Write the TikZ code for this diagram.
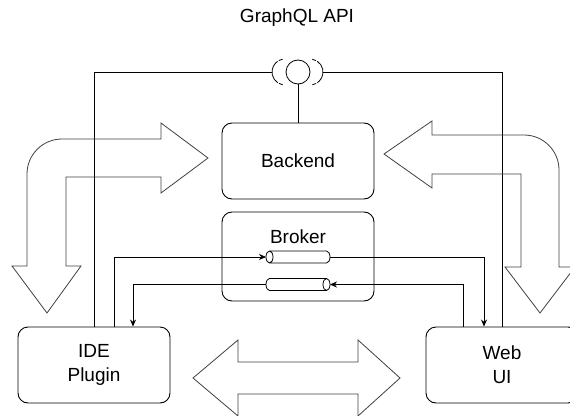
\documentclass[tikz,border=0pt]{standalone}
\usepackage{fontspec}
\setmainfont{Liberation Sans}
\usetikzlibrary{arrows.meta}
\newcommand{\lbl}{\fontsize{19}{24}\selectfont}

\begin{document}
\begin{tikzpicture}[x=1pt, y=-1pt,
  comp/.style={rectangle, draw, rounded corners=10pt, minimum width=152pt, minimum height=76pt, align=center, font=\lbl, line width=0.9pt},
  queue/.style={rectangle, minimum width=64pt, minimum height=12pt, inner sep=0pt, outer sep=0pt},
  qend/.style={x radius=3.5pt, y radius=6pt},
  link/.style={line width=0.8pt},
  flow/.style={link, -{Stealth[length=7pt, width=6pt]}},
  bigarrow/.style={draw=black!75, line width=0.8pt, line join=miter}
]
  \useasboundingbox (0,0) rectangle (570,415);

  \node[font=\lbl] (title) at (297,18) {GraphQL API};

  \node[comp] (backend) at (298,161) {Backend};
  \node[comp, minimum height=89pt] (broker) at (298,256.5) {};
  \node[font=\lbl] (brokertitle) at (298,237) {Broker};
  \node[comp] (ide) at (94,365) {IDE\\Plugin};
  \node[comp] (web) at (502,365) {Web\\UI};

  \node[queue] (qin) at (298,257) {};
  \node[queue] (qout) at (298,284.5) {};
  \draw[link] ([xshift=3.5pt]qin.north west) -- ([xshift=-3.5pt]qin.north east) arc[start angle=90, end angle=-90, qend]
    -- ([xshift=3.5pt]qin.south west) arc[start angle=270, end angle=90, qend] arc[start angle=90, end angle=-90, qend];
  \draw[link] ([xshift=3.5pt]qout.north west) -- ([xshift=-3.5pt]qout.north east) arc[start angle=90, end angle=-90, qend]
    arc[start angle=270, end angle=90, qend] arc[start angle=90, end angle=-90, qend]
    -- ([xshift=3.5pt]qout.south west) arc[start angle=270, end angle=90, qend];

  \node[draw, circle, link, minimum size=24pt, inner sep=0pt] (api) at (298,72) {};
  \coordinate (sockL) at (272,72);
  \coordinate (sockR) at (323,72);
  \draw[link, dash pattern=on 4pt off 1.5pt on 25pt off 1.5pt] ([shift={(100:13)}]285,72) arc[start angle=100, end angle=260, radius=13];
  \draw[link, dash pattern=on 4pt off 1.5pt on 25pt off 1.5pt] ([shift={(-80:13)}]310,72) arc[start angle=-80, end angle=80, radius=13];

  \draw[link] (api) -- (backend);
  \draw[link] (sockL) -| (ide.north);
  \draw[link] (sockR) -| (web.north);

  \draw[flow] ([xshift=20pt]ide.north) |- (qin.west);
  \draw[flow] (qin.east) -| ([xshift=-18pt]web.north);
  \draw[flow] ([xshift=-39pt]web.north) |- (qout.east);
  \draw[flow] (qout.west) -| ([xshift=39pt]ide.north);

  \draw[bigarrow] (47,313) -- (12,266) -- (27,266) -- (27,174) arc[start angle=180, end angle=270, radius=35]
    -- (161,139) -- (161,123) -- (208,158) -- (161,193) -- (161,177) -- (66,177) -- (66,266) -- (81,266) -- cycle;
  \draw[bigarrow] (384,154) -- (432,121) -- (432,135) -- (524,135) arc[start angle=270, end angle=360, radius=35]
    -- (559,267) -- (575,267) -- (540,313) -- (505,267) -- (521,267) -- (521,174) -- (432,174) -- (432,188) -- cycle;
  \draw[bigarrow] (193,378) -- (238,340) -- (238,362) -- (358,362) -- (358,340) -- (400,378) -- (358,416)
    -- (358,394) -- (238,394) -- (238,416) -- cycle;
\end{tikzpicture}
\end{document}
